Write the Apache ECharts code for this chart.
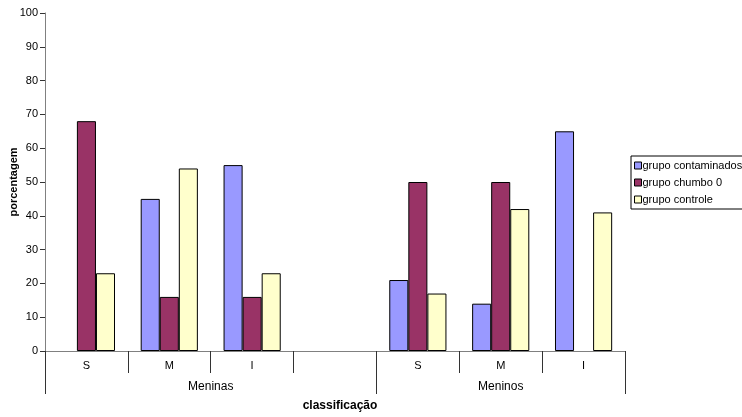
<!DOCTYPE html>
<html>
<head>
<meta charset="utf-8">
<script src="https://cdn.jsdelivr.net/npm/echarts@6/dist/echarts.min.js"></script>
<style>
html,body{margin:0;padding:0;background:#fff;}
#chart{width:742px;height:417px;}
</style>
</head>
<body>
<div id="chart"></div>
<script>
var categories = ['S', 'M', 'I', '', 'S', 'M', 'I'];
var groupLabels = ['Meninas', 'Meninos'];
var groupBounds = [0, 4, 7];
var seriesNames = ['grupo contaminados', 'grupo chumbo 0', 'grupo controle'];
var contaminados = [0, 45, 55, null, 21, 14, 65];
var chumbo = [68, 16, 16, null, 50, 50, 0];
var controle = [23, 54, 23, null, 17, 42, 41];
var yTicks = [0, 10, 20, 30, 40, 50, 60, 70, 80, 90, 100];

var colors = ['#9999FF', '#993366', '#FFFFCC'];
var font = 'Liberation Sans, Arial, sans-serif';
var groupCenters = [(groupBounds[0] + groupBounds[1]) / 2, (groupBounds[1] + groupBounds[2]) / 2];

var chart = echarts.init(document.getElementById('chart'));
function mk(name, data, i) {
  return {
    name: name, type: 'bar',
    data: data.map(function (v) { return v === 0 ? '-' : v; }),
    xAxisIndex: 0,
    barGap: '0%', barCategoryGap: '31%',
    itemStyle: { color: colors[i], borderColor: '#000', borderWidth: 1 },
    animation: false
  };
}
chart.setOption({
  animation: false,
  textStyle: { fontFamily: font },
  grid: { left: 45, right: 117, top: 13, bottom: 66, containLabel: false, outerBoundsMode: 'none' },
  legend: {
    orient: 'vertical', left: 631, top: 156,
    data: seriesNames,
    borderColor: '#000', borderWidth: 1,
    padding: [4, 8, 4, 3],
    itemWidth: 7, itemHeight: 7, itemGap: 6,
    icon: 'rect',
    textStyle: { fontSize: 11, color: '#000', fontFamily: font, padding: [0, 0, 0, -4] },
    itemStyle: { borderColor: '#000', borderWidth: 1 }
  },
  xAxis: [
    {
      type: 'category', data: categories, position: 'bottom',
      axisLine: { lineStyle: { color: '#808080', width: 1 } },
      axisTick: { show: true, length: 22, interval: 0, lineStyle: { color: '#333' } },
      axisLabel: { fontSize: 11, color: '#000', margin: 9, interval: 0, fontFamily: font }
    },
    {
      type: 'value', min: groupBounds[0], max: groupBounds[2], position: 'bottom',
      axisLine: { show: false },
      splitLine: { show: false },
      axisTick: { show: true, length: 43, customValues: groupBounds, lineStyle: { color: '#333' } },
      axisLabel: {
        fontSize: 12, color: '#000', margin: 30, fontFamily: font,
        customValues: groupCenters,
        formatter: function (v) { return v === groupCenters[0] ? groupLabels[0] : groupLabels[1]; }
      },
      name: 'classificação', nameLocation: 'middle', nameGap: 49,
      nameTextStyle: { fontSize: 12, fontWeight: 'bold', color: '#000', fontFamily: font, padding: [0, 0, 0, 10] }
    }
  ],
  yAxis: {
    type: 'value', min: 0, max: 100, interval: 10,
    axisLine: { show: true, lineStyle: { color: '#808080' } },
    axisTick: { show: true, length: 5, lineStyle: { color: '#333' } },
    splitLine: { show: false },
    axisLabel: { fontSize: 11, color: '#000', margin: 7, fontFamily: font,
      formatter: function (v) { return yTicks.indexOf(v) >= 0 ? String(v) : ''; } },
    name: 'porcentagem', nameLocation: 'middle', nameGap: 26, nameMoveOverlap: false,
    nameTextStyle: { fontSize: 11, fontWeight: 'bold', color: '#000', fontFamily: font }
  },
  series: [mk(seriesNames[0], contaminados, 0), mk(seriesNames[1], chumbo, 1), mk(seriesNames[2], controle, 2)]
});
</script>
</body>
</html>
